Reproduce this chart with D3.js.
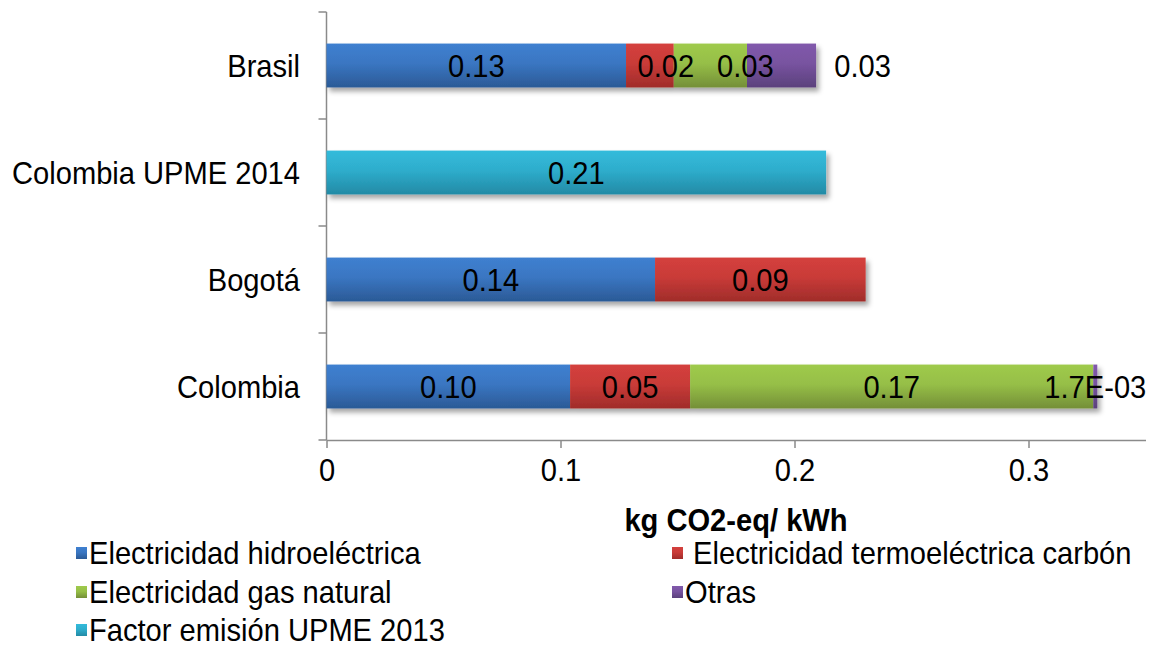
<!DOCTYPE html>
<html>
<head>
<meta charset="utf-8">
<script src="https://cdn.jsdelivr.net/npm/d3@7"></script>
<style>
  html, body { margin: 0; padding: 0; background: #ffffff; }
  svg { display: block; }
  text { font-family: "Liberation Sans", Arial, sans-serif; fill: #000; white-space: pre; }
</style>
</head>
<body>
<svg id="chart" width="1159" height="646"></svg>
<script>
// Emission factors of electricity by generation source (kg CO2-eq / kWh)
const categories = ["Brasil", "Colombia UPME 2014", "Bogotá", "Colombia"];
const seriesNames = [
  "Electricidad hidroeléctrica",
  " Electricidad termoeléctrica carbón",
  "Electricidad gas natural",
  "Otras",
  "Factor emisión UPME 2013"
];
const hidro  = [0.128,  0,      0.1404, 0.1041];
const carbon = [0.0204, 0,      0.0900, 0.0513];
const gas    = [0.0313, 0,      0,      0.1723];
const otras  = [0.0295, 0,      0,      0.0017];
const upme   = [0,      0.2135, 0,      0];
const tickValues = [0, 0.1, 0.2, 0.3];
const tickLabels = ["0", "0.1", "0.2", "0.3"];
const axisTitle = "kg CO2-eq/ kWh";

const seriesValues = [hidro, carbon, gas, otras, upme];
const seriesKeys = ["hidro", "carbon", "gas", "otras", "upme"];
const gradientColors = {
  hidro:  ["#3f80d0", "#3a76c2", "#2b5a96"],
  carbon: ["#d4403d", "#c93b38", "#a02c2a"],
  gas:    ["#9fca4c", "#96bf47", "#748f38"],
  otras:  ["#8159ab", "#7853a0", "#5b417c"],
  upme:   ["#33bbdb", "#2eadcc", "#238aa5"]
};

// horizontal condensation of the Arial-like lettering
const SX = 0.91;
const FONT = 32;

const rows = categories.map((c, i) => {
  const r = { category: c };
  seriesKeys.forEach((k, j) => { r[k] = seriesValues[j][i]; });
  return r;
});
const stacked = d3.stack().keys(seriesKeys)(rows);

const svg = d3.select("#chart");
const defs = svg.append("defs");

seriesKeys.forEach(k => {
  const g = defs.append("linearGradient")
    .attr("id", "grad-" + k).attr("x1", 0).attr("y1", 0).attr("x2", 0).attr("y2", 1);
  const c = gradientColors[k];
  g.append("stop").attr("offset", "0%").attr("stop-color", c[0]);
  g.append("stop").attr("offset", "45%").attr("stop-color", c[1]);
  g.append("stop").attr("offset", "100%").attr("stop-color", c[2]);
});

const shadow = defs.append("filter").attr("id", "shadow")
  .attr("x", "-5%").attr("y", "-20%").attr("width", "115%").attr("height", "160%");
shadow.append("feDropShadow")
  .attr("dx", 3).attr("dy", 4).attr("stdDeviation", 2.5)
  .attr("flood-color", "#000").attr("flood-opacity", 0.35);

const x = d3.scaleLinear().domain([0, 0.35]).range([326.5, 1145.5]);
const y = d3.scaleBand().domain(categories).range([12, 440])
  .paddingInner(0.59).paddingOuter(0.295);

const axisColor = "#8a8a8a";

// category axis: line with ticks on band boundaries
const yAxis = svg.append("g");
yAxis.append("line")
  .attr("x1", x(0)).attr("x2", x(0))
  .attr("y1", y.range()[0]).attr("y2", y.range()[1])
  .attr("stroke", axisColor).attr("stroke-width", 1.5);
d3.range(categories.length + 1).forEach(i => {
  const yy = y.range()[0] + i * y.step();
  yAxis.append("line")
    .attr("x1", x(0) - 8).attr("x2", x(0))
    .attr("y1", yy).attr("y2", yy)
    .attr("stroke", axisColor).attr("stroke-width", 1.5);
});

// category labels
svg.append("g").selectAll("text").data(categories).join("text")
  .attr("transform", d => `translate(300,${y(d) + y.bandwidth() / 2}) scale(${SX},1)`)
  .attr("text-anchor", "end")
  .attr("dy", "0.35em")
  .style("font-size", FONT + "px")
  .text(d => d);

// value axis
const xAxis = svg.append("g").attr("transform", `translate(0,${y.range()[1]})`)
  .call(d3.axisBottom(x).tickValues(tickValues)
    .tickFormat((d, i) => tickLabels[i])
    .tickSize(8).tickSizeOuter(0).tickPadding(10));
xAxis.select(".domain").attr("stroke", axisColor).attr("stroke-width", 1.5);
xAxis.selectAll(".tick line").attr("stroke", axisColor).attr("stroke-width", 1.5);
xAxis.selectAll(".tick text")
  .attr("transform", `scale(${SX},1)`)
  .style("font-size", FONT + "px")
  .style("font-family", '"Liberation Sans", Arial, sans-serif')
  .attr("fill", "#000");

// stacked bars, one shadowed group per category
const segments = [];
stacked.forEach(layer => {
  layer.forEach((s, i) => {
    const v = s[1] - s[0];
    if (v > 0) segments.push({ key: layer.key, category: categories[i], x0: s[0], x1: s[1], value: v });
  });
});

const barGroups = svg.append("g").selectAll("g").data(categories).join("g")
  .attr("filter", "url(#shadow)");
barGroups.selectAll("rect")
  .data(c => segments.filter(s => s.category === c))
  .join("rect")
  .attr("x", d => x(d.x0))
  .attr("y", d => y(d.category))
  .attr("width", d => x(d.x1) - x(d.x0))
  .attr("height", y.bandwidth())
  .attr("fill", d => `url(#grad-${d.key})`);

// value labels
function fmt(v) {
  if (v < 0.01) {
    const [m, e] = v.toExponential(1).split("e");
    const n = parseInt(e, 10);
    return m + "E" + (n < 0 ? "-" : "+") + String(Math.abs(n)).padStart(2, "0");
  }
  return v.toFixed(2);
}
// hand-placed label offsets (px) for the crowded Brasil bar
const labelNudge = { "Brasil|carbon": 16, "Brasil|gas": 35, "Brasil|otras": 81 };

svg.append("g").selectAll("text").data(segments).join("text")
  .attr("transform", d => {
    const cx = (x(d.x0) + x(d.x1)) / 2 + (labelNudge[d.category + "|" + d.key] || 0);
    return `translate(${cx},${y(d.category) + y.bandwidth() / 2}) scale(${SX},1)`;
  })
  .attr("text-anchor", "middle")
  .attr("dy", "0.35em")
  .style("font-size", FONT + "px")
  .text(d => fmt(d.value));

// axis title
svg.append("text")
  .attr("transform", `translate(${(x.range()[0] + x.range()[1]) / 2},520) scale(${SX},1)`)
  .attr("text-anchor", "middle")
  .attr("dy", "0.35em")
  .style("font-size", FONT + "px")
  .style("font-weight", "bold")
  .text(axisTitle);

// legend
const legendPos = [
  { x: 76, y: 553 }, { x: 672, y: 553 },
  { x: 76, y: 592 }, { x: 672, y: 592 },
  { x: 76, y: 630 }
];
const legend = svg.append("g").selectAll("g").data(seriesKeys).join("g")
  .attr("transform", (d, i) => `translate(${legendPos[i].x},${legendPos[i].y})`);
legend.append("rect")
  .attr("x", 0).attr("y", -6).attr("width", 11).attr("height", 12)
  .attr("fill", d => `url(#grad-${d})`);
legend.append("text")
  .attr("transform", `translate(13,0) scale(${SX},1)`)
  .attr("dy", "0.35em")
  .style("font-size", FONT + "px")
  .text((d, i) => seriesNames[i]);
</script>
</body>
</html>
